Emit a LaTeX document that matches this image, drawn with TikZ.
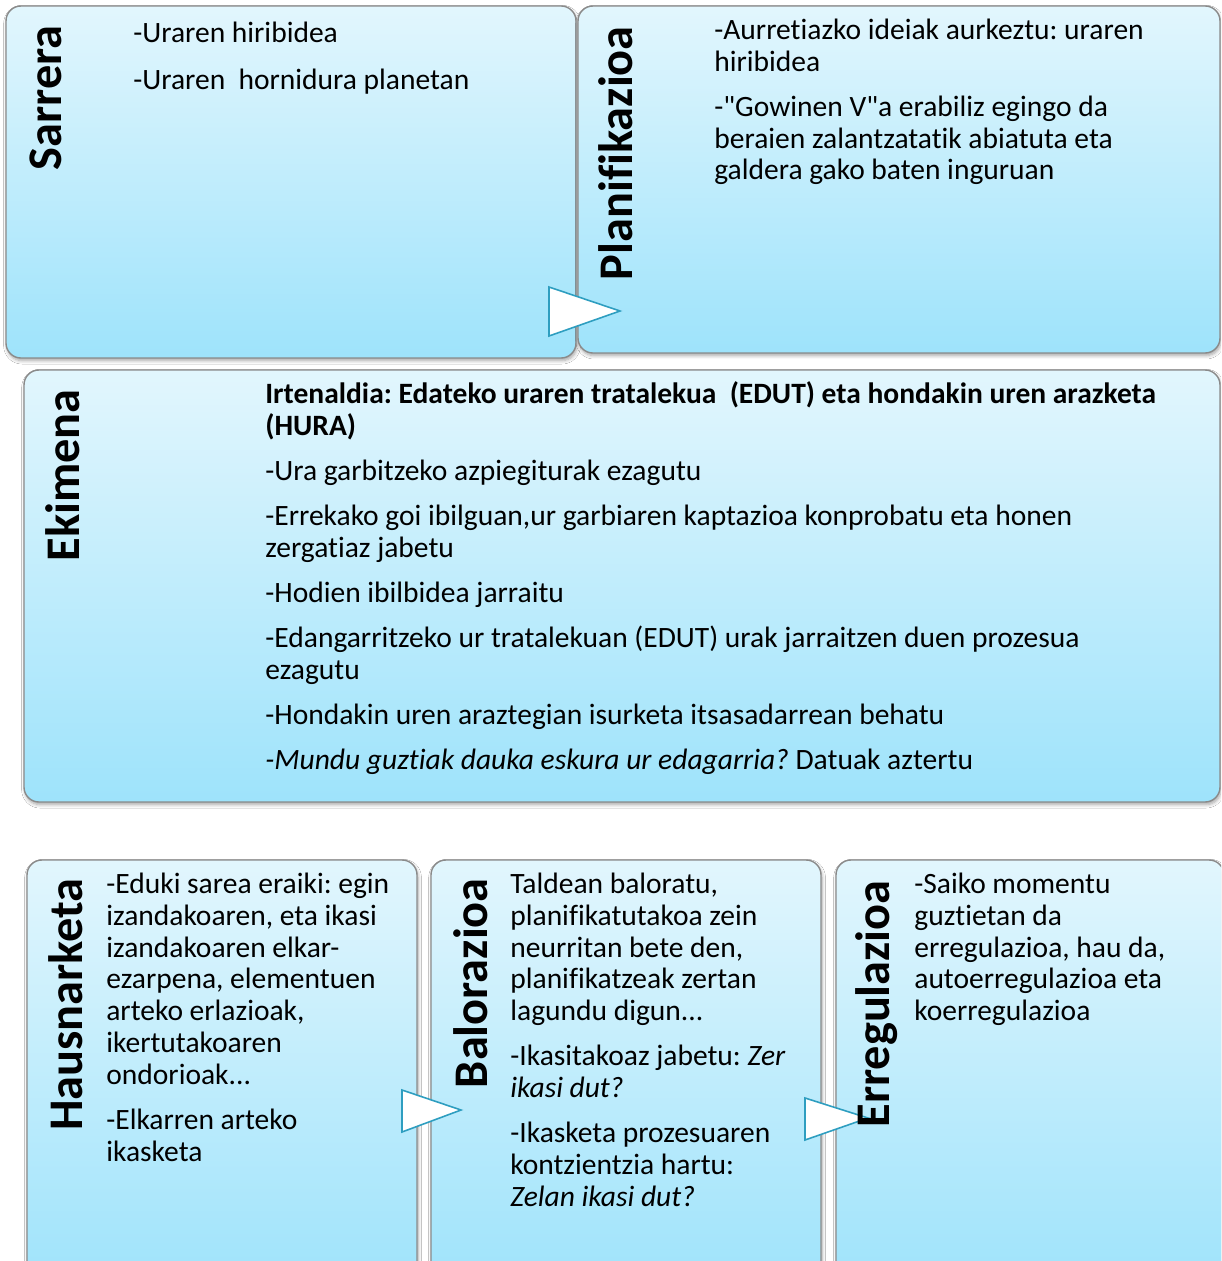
\documentclass[tikz,border=0pt]{standalone}
\usepackage{fontspec}
\setmainfont{Carlito}[Ligatures={TeX,NoCommon}]
\newfontfamily\plainquote{Carlito}[Ligatures=NoCommon]
\usepackage{tikz}
\usetikzlibrary{fit, shadows.blur}
\definecolor{ctop}{RGB}{226,246,253}
\definecolor{cbottom}{RGB}{158,227,251}
\definecolor{cborder}{RGB}{138,138,138}
\definecolor{cteal}{RGB}{46,158,192}
\frenchspacing
\newcommand{\bodyfont}{\fontsize{16.8}{18.14}\selectfont}
\newcommand{\titlefont}{\fontsize{27.5}{30}\selectfont\bfseries}
\newcommand{\pgap}{\\[7.5pt]}
\newcommand{\dq}{{\plainquote\char34}}
\tikzset{
StageBox/.style={
	draw=cborder,
	line width=0.8pt,
	rounded corners=8.5pt,
	top color=ctop,
	bottom color=cbottom,
	inner sep=0pt,
	blur shadow={shadow xshift=0.6pt, shadow yshift=-1.5pt,
		shadow blur steps=6, shadow opacity=35}
},
StageTitle/.style={
	rotate=90,
	anchor=base east,
	inner sep=0pt,
	font=\titlefont
},
StageText/.style={
	anchor=north west,
	inner sep=0pt,
	align=left,
	font=\bodyfont
},
Pointer/.style={
	draw=cteal,
	line width=0.9pt,
	fill=white,
	line join=miter
}
}

\begin{document}
\begin{tikzpicture}[x=0.02cm, y=-0.02cm]
	\useasboundingbox (0,0) rectangle (1221,1261);
	\clip (0,0) rectangle (1221,1261);
	\fill[white] (0,0) rectangle (1221,1261);

	% boxes
	\node[StageBox, fit={(6,6) (576,358)}] (sarrera) {};
	\node[StageBox, fit={(578,6) (1220,353)}] (planif) {};
	\node[StageBox, fit={(24,370) (1220,802)}] (ekimena) {};
	\node[StageBox, fit={(27,860) (417,1290)}] (hausnar) {};
	\node[StageBox, fit={(431,860) (821,1290)}] (balor) {};
	\node[StageBox, fit={(836,860) (1224,1290)}] (erregul) {};

	% pointers between the boxes
	\draw[Pointer] (549,287) -- (549,336) -- (620,311) -- cycle;
	\draw[Pointer] (402,1090) -- (402,1132) -- (461,1110) -- cycle;
	\draw[Pointer] (805,1098) -- (805,1140) -- (868,1118) -- cycle;

	% titles
	\node[StageTitle] (tsarrera) at (61,25) {Sarrera};
	\node[StageTitle] (tplanif) at (632,26) {Planifikazioa};
	\node[StageTitle] (tekimena) at (79,389) {Ekimena};
	\node[StageTitle] (thausnar) at (82,878) {Hausnarketa};
	\node[StageTitle] (tbalor) at (487,878) {Balorazioa};
	\node[StageTitle] (terregul) at (889,880) {Erregulazioa};

	% texts
	\node[StageText] (xsarrera) at (133,19.6) {\strut-Uraren hiribidea\\[8.5pt]
		-Uraren\ \ hornidura planetan};
	\node[StageText] (xplanif) at (714,16.6) {\strut-Aurretiazko ideiak aurkeztu: uraren\\
		hiribidea\pgap
		-\dq Gowinen V\dq a erabiliz egingo da\\
		beraien zalantzatatik abiatuta eta\\
		galdera gako baten inguruan};
	\node[StageText] (xekimena) at (265,380.6) {\strut\textbf{Irtenaldia: Edateko uraren tratalekua\ \ (EDUT) eta hondakin uren arazketa}\\
		\textbf{(HURA)}\pgap
		-Ura garbitzeko azpiegiturak ezagutu\pgap
		-Errekako goi ibilguan,ur garbiaren kaptazioa konprobatu eta honen\\
		zergatiaz jabetu\pgap
		-Hodien ibilbidea jarraitu\pgap
		-Edangarritzeko ur tratalekuan (EDUT) urak jarraitzen duen prozesua\\
		ezagutu\pgap
		-Hondakin uren araztegian isurketa itsasadarrean behatu\pgap
		\textit{-Mundu guztiak dauka eskura ur edagarria?} Datuak aztertu};
	\node[StageText] (xhausnar) at (106,870.6) {\strut-Eduki sarea eraiki: egin\\
		izandakoaren, eta ikasi\\
		izandakoaren elkar-\\
		ezarpena, elementuen\\
		arteko erlazioak,\\
		ikertutakoaren\\
		ondorioak...\pgap
		-Elkarren arteko\\
		ikasketa};
	\node[StageText] (xbalor) at (510,870.6) {\strut Taldean baloratu,\\
		planifikatutakoa zein\\
		neurritan bete den,\\
		planifikatzeak zertan\\
		lagundu digun...\pgap
		-Ikasitakoaz jabetu: \textit{Zer}\\
		\textit{ikasi dut?}\pgap
		-Ikasketa prozesuaren\\
		kontzientzia hartu:\\
		\textit{Zelan ikasi dut?}};
	\node[StageText] (xerregul) at (914,870.6) {\strut-Saiko momentu\\
		guztietan da\\
		erregulazioa, hau da,\\
		autoerregulazioa eta\\
		koerregulazioa};
\end{tikzpicture}
\end{document}
